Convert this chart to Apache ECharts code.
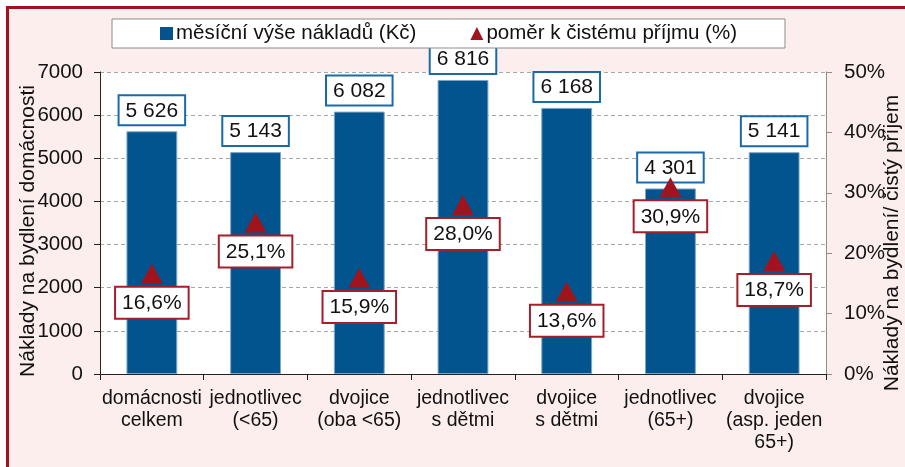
<!DOCTYPE html>
<html>
<head>
<meta charset="utf-8">
<script src="https://cdn.jsdelivr.net/npm/echarts@6/dist/echarts.min.js"></script>
<style>
  html, body { margin: 0; padding: 0; background: #fff; }
  #main { width: 905px; height: 467px; }
</style>
</head>
<body>
<div id="main"></div>
<script>
// kategorie domácností
var categories = [
  "domácnosti\ncelkem",
  "jednotlivec\n(<65)",
  "dvojice\n(oba <65)",
  "jednotlivec\ns dětmi",
  "dvojice\ns dětmi",
  "jednotlivec\n(65+)",
  "dvojice\n(asp. jeden\n65+)"
];
// měsíční výše nákladů (Kč)
var costs = [5626, 5143, 6082, 6816, 6168, 4301, 5141];
// poměr k čistému příjmu (%)
var ratios = [16.6, 25.1, 15.9, 28.0, 13.6, 30.9, 18.7];

var costName = "měsíční výše nákladů (Kč)";
var ratioName = "poměr k čistému příjmu (%)";
var font = "Liberation Sans, Arial, sans-serif";

function fmtCost(v) {
  return String(v).replace(/\B(?=(\d{3})+(?!\d))/g, " ");
}
function fmtRatio(v) {
  return v.toFixed(1).replace(".", ",") + "%";
}

var myChart = echarts.init(document.getElementById("main"));

var option = {
  backgroundColor: "#fff",
  textStyle: { fontFamily: font },
  graphic: [
    {
      type: "rect",
      z: -10,
      shape: { x: 7.5, y: 7.5, width: 1000, height: 1000 },
      style: { fill: "#fdeeee", stroke: "#a3111e", lineWidth: 3 }
    }
  ],
  legend: {
    z: 10,
    top: 19,
    left: 112,
    padding: [4, 48, 4, 48],
    itemGap: 54,
    itemWidth: 13,
    itemHeight: 13,
    backgroundColor: "#fff",
    borderColor: "#8c8c8c",
    borderWidth: 1,
    textStyle: { fontSize: 20.5, color: "#111", fontFamily: font, padding: [0, 0, 0, -2] },
    data: [
      { name: costName, icon: "rect", itemStyle: { borderWidth: 0 } },
      { name: ratioName, icon: "triangle" }
    ]
  },
  grid: {
    left: 100,
    right: 79,
    top: 72,
    bottom: 93,
    containLabel: false,
    outerBoundsMode: "none",
    show: true,
    backgroundColor: "#fff",
    borderWidth: 0
  },
  xAxis: {
    type: "category",
    data: categories,
    axisLine: { lineStyle: { color: "#222", width: 1 } },
    axisTick: { show: true, length: 6, lineStyle: { color: "#222" } },
    axisLabel: {
      interval: 0,
      margin: 14,
      fontSize: 19.5,
      lineHeight: 22,
      color: "#111",
      fontFamily: font
    }
  },
  yAxis: [
    {
      type: "value",
      min: 0,
      max: 7000,
      interval: 1000,
      name: "Náklady na bydlení domácnosti",
      nameLocation: "middle",
      nameGap: 61,
      nameMoveOverlap: false,
      nameTextStyle: { fontSize: 21, color: "#111", fontFamily: font, padding: [0, 16, 0, 0] },
      axisLine: { show: true, lineStyle: { color: "#222" } },
      axisTick: { show: true, length: 6, lineStyle: { color: "#222" } },
      axisLabel: {
        fontSize: 20.5,
        color: "#111",
        margin: 17,
        fontFamily: font,
        formatter: function (v) { return String(v); }
      },
      splitLine: { lineStyle: { color: "#a6a6a6", type: [4, 3] } }
    },
    {
      type: "value",
      min: 0,
      max: 50,
      interval: 10,
      position: "right",
      name: "Náklady na bydlení/ čistý příjem",
      nameLocation: "middle",
      nameGap: 56,
      nameMoveOverlap: false,
      nameTextStyle: { fontSize: 21, color: "#111", fontFamily: font, padding: [0, 40, 0, 0] },
      axisLine: { show: true, lineStyle: { color: "#8c8c8c" } },
      axisTick: { show: true, length: 6, lineStyle: { color: "#8c8c8c" } },
      axisLabel: {
        fontSize: 20.5,
        color: "#111",
        margin: 18,
        fontFamily: font,
        formatter: "{value}%"
      },
      splitLine: { show: false }
    }
  ],
  series: [
    {
      name: costName,
      type: "bar",
      data: costs,
      barWidth: "49%",
      itemStyle: { color: "#01548e", borderColor: "#7fa6c6", borderWidth: 1 },
      label: {
        show: true,
        position: "top",
        distance: 7,
        fontSize: 21,
        color: "#111",
        fontFamily: font,
        backgroundColor: "#fff",
        borderColor: "#1a6aa8",
        borderWidth: 2,
        padding: [4, 6, 3, 6],
        formatter: function (p) { return fmtCost(p.value); }
      }
    },
    {
      name: ratioName,
      type: "scatter",
      yAxisIndex: 1,
      data: ratios,
      symbol: "triangle",
      symbolSize: [22, 20],
      itemStyle: { color: "#a0141e", opacity: 1 },
      z: 5,
      label: {
        show: true,
        position: "bottom",
        distance: 4,
        fontSize: 21,
        color: "#111",
        fontFamily: font,
        backgroundColor: "#fff",
        borderColor: "#a3202a",
        borderWidth: 2,
        padding: [5, 6, 4, 6],
        formatter: function (p) { return fmtRatio(p.value); }
      }
    }
  ]
};

myChart.setOption(option);
</script>
</body>
</html>
